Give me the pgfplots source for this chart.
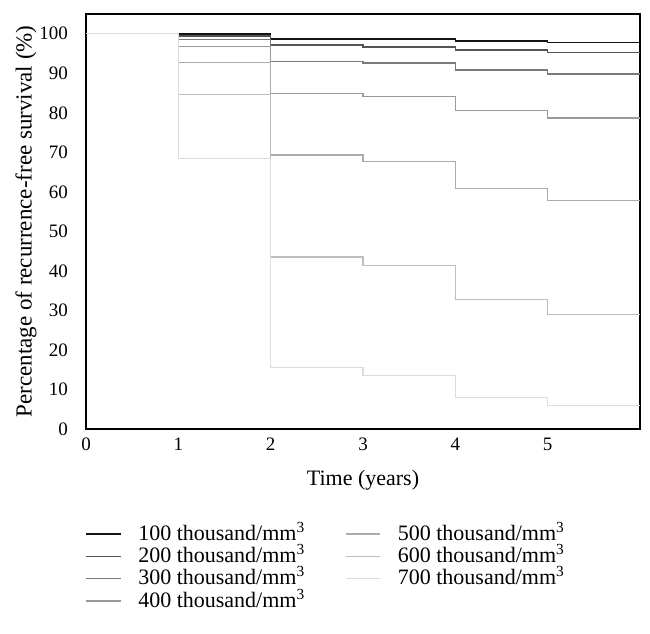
\documentclass[border=0pt]{standalone}
\usepackage{pgfplots}
\pgfplotsset{compat=1.18}
\usepackage{fontspec}
\setmainfont{Liberation Serif}
\definecolor{cA}{HTML}{141414}
\definecolor{cB}{HTML}{555555}
\definecolor{cC}{HTML}{7A7A7A}
\definecolor{cD}{HTML}{9A9A9A}
\definecolor{cE}{HTML}{ABABAB}
\definecolor{cF}{HTML}{BEBEBE}
\definecolor{cG}{HTML}{DCDCDC}
\begin{document}
\begin{tikzpicture}
\begin{axis}[
  scale only axis,
  width=277pt, height=207.5pt,
  xmin=0, xmax=6, ymin=0, ymax=105,
  xtick={0,1,2,3,4,5},
  ytick={0,10,20,30,40,50,60,70,80,90,100},
  tick style={draw=none},
  axis line style={black, line width=0.75pt},
  font=\fontsize{11}{13}\selectfont,
  tick label style={font=\fontsize{9.5}{11}\selectfont},
  /pgf/number format/assume math mode=true,
  yticklabel style={xshift=-5.5pt},
  xticklabel style={yshift=-1pt},
  xlabel={Time (years)},
  ylabel={Percentage of recurrence-free survival (\%)},
  xlabel style={yshift=-3pt},
  ylabel style={yshift=-5.5pt, font=\fontsize{11.5}{13}\selectfont},
  legend columns=2,
  legend cell align=left,
  legend style={draw=none, at={(axis description cs:-0.012,-0.215)}, anchor=north west,
    font=\fontsize{11}{13}\selectfont, row sep=0pt,
    nodes={inner xsep=1pt, inner ysep=0.5pt, text height=8.2pt, text depth=2pt},
    /tikz/every odd column/.append style={column sep=7.5pt},
    /tikz/every even column/.append style={column sep=19pt}},
  every axis plot/.append style={line width=0.7pt, const plot},
]
\addplot[cA, forget plot] coordinates {(0,100) (1,99.9) (2,98.7) (4,98.2) (5,97.8) (6,97.8)};
\addplot[cB, forget plot] coordinates {(0,100) (1,99.4) (2,97.2) (3,96.7) (4,95.9) (5,95.3) (6,95.3)};
\addplot[cC, forget plot] coordinates {(0,100) (1,98.6) (2,93.0) (3,92.6) (4,90.8) (5,89.8) (6,89.8)};
\addplot[cD, forget plot] coordinates {(0,100) (1,96.8) (2,84.9) (3,84.1) (4,80.6) (5,78.7) (6,78.7)};
\addplot[cE, forget plot] coordinates {(0,100) (1,92.8) (2,69.3) (3,67.7) (4,60.9) (5,57.8) (6,57.8)};
\addplot[cF, forget plot] coordinates {(0,100) (1,84.6) (2,43.5) (3,41.3) (4,32.7) (5,29.0) (6,29.0)};
\addplot[cG, forget plot] coordinates {(0,100) (1,68.5) (2,15.5) (3,13.5) (4,7.9) (5,6.0) (6,6.0)};
\addlegendimage{cA, line width=0.7pt}
\addlegendentry{100 thousand/mm\textsuperscript{3}}
\addlegendimage{cE, line width=0.7pt}
\addlegendentry{500 thousand/mm\textsuperscript{3}}
\addlegendimage{cB, line width=0.7pt}
\addlegendentry{200 thousand/mm\textsuperscript{3}}
\addlegendimage{cF, line width=0.7pt}
\addlegendentry{600 thousand/mm\textsuperscript{3}}
\addlegendimage{cC, line width=0.7pt}
\addlegendentry{300 thousand/mm\textsuperscript{3}}
\addlegendimage{cG, line width=0.7pt}
\addlegendentry{700 thousand/mm\textsuperscript{3}}
\addlegendimage{cD, line width=0.7pt}
\addlegendentry{400 thousand/mm\textsuperscript{3}}
\end{axis}
\pgfresetboundingbox
\path ([shift={(-43pt,-102pt)}]current axis.south west) rectangle ([shift={(5pt,7pt)}]current axis.north east);
\end{tikzpicture}
\end{document}
